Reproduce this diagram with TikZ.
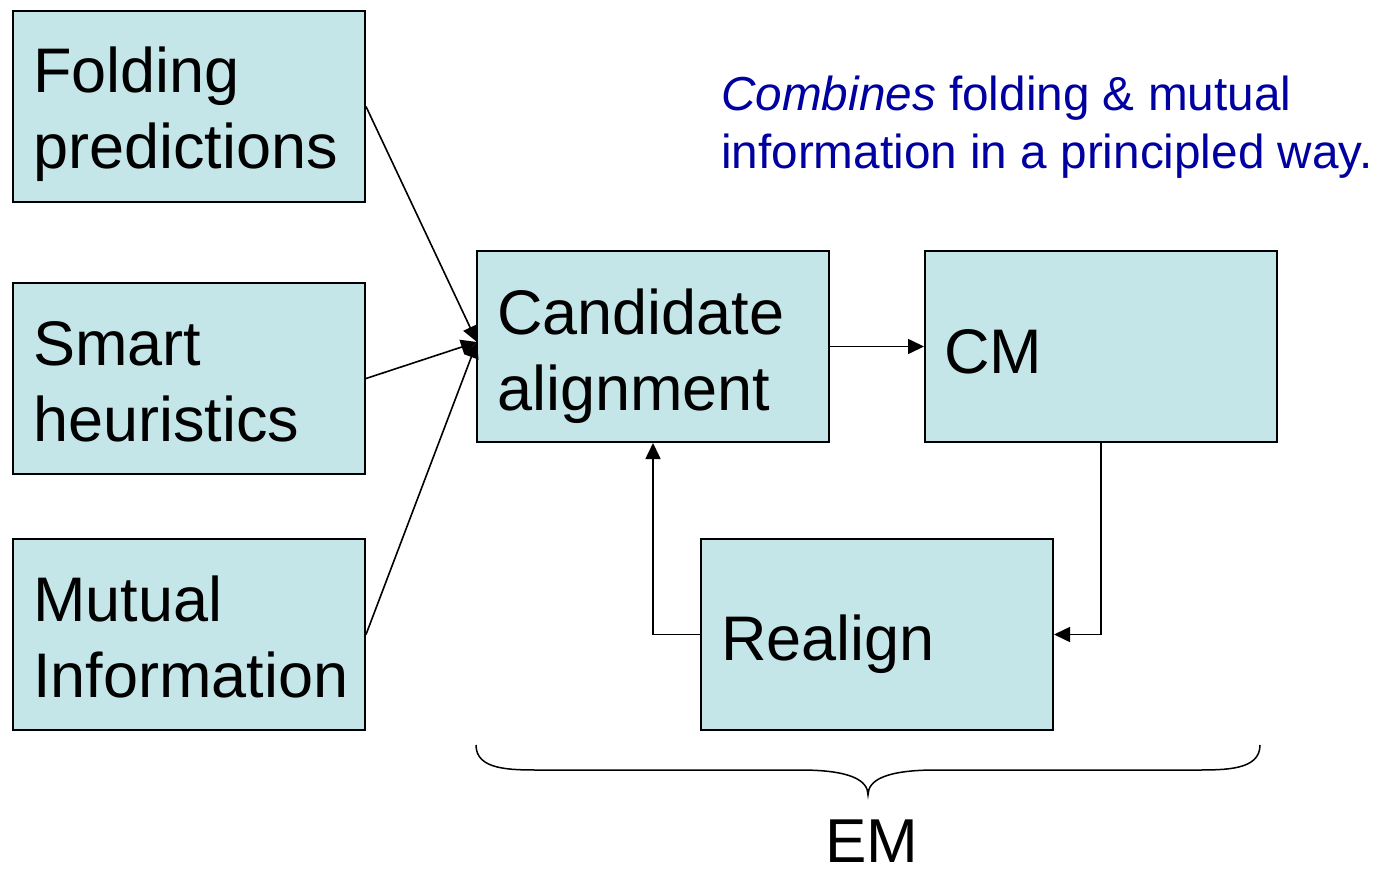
\documentclass[tikz,border=0pt]{standalone}
\usepackage{fontspec}
\setmainfont{Liberation Sans}
\usetikzlibrary{arrows.meta}
\definecolor{boxfill}{HTML}{C4E6E8}
\definecolor{noteblue}{HTML}{0000A0}
\begin{document}
\begin{tikzpicture}[x=1pt,y=-1pt,
  blk/.style={draw=black,fill=boxfill,line width=2pt,minimum width=352pt,minimum height=191pt,inner sep=0pt,anchor=north west},
  lbl/.style={anchor=base west,inner sep=0pt,align=left,font=\fontsize{63}{76}\selectfont},
  conn/.style={line width=1.6pt,-{Triangle[length=16pt,width=15pt]}}]
\useasboundingbox (0,0) rectangle (1380,869);
\node[blk] (fold) at (12,10) {};
\node[blk] (smart) at (12,282) {};
\node[blk] (mutual) at (12,538) {};
\node[blk] (cand) at (476,250) {};
\node[blk] (cm) at (924,250) {};
\node[blk] (realign) at (700,538) {};
\node[lbl] (tfold) at (33,169) {Folding\\predictions};
\node[lbl] (tsmart) at (33,441) {Smart\\heuristics};
\node[lbl] (tmutual) at (33,697) {Mutual\\Information};
\node[lbl] (tcand) at (497,410) {Candidate\\alignment};
\node[lbl] (tcm) at (944,373) {CM};
\node[lbl] (trealign) at (721,660) {Realign};
\node[anchor=base west,inner sep=0pt,align=left,text=noteblue,font=\fontsize{47.7}{58}\selectfont] (note) at (721,168) {\textit{Combines} folding \& mutual\\information in a principled way.};
\coordinate (hub) at (477,342);
\draw[conn] (fold.east) -- (hub);
\draw[conn] (smart.east) -- (hub);
\draw[conn] (mutual.east) -- (hub);
\draw[conn] (cand.east) -- (cm.west);
\draw[conn] (cm.south) |- (realign.east);
\draw[conn] (realign.west) -| (cand.south);
\coordinate (bl) at (476,745);
\coordinate (br) at (1260,745);
\coordinate (btip) at (868,795);
\draw[line width=1.5pt] (bl) .. controls (476,770) and (510,770) .. (540,770) -- (800,770) .. controls (850,770) and (868,780) .. (btip) .. controls (868,780) and (886,770) .. (936,770) -- (1196,770) .. controls (1226,770) and (1260,770) .. (br);
\node[anchor=base,inner sep=0pt,font=\fontsize{62}{74}\selectfont] (em) at (872,862) {EM};
\end{tikzpicture}
\end{document}
